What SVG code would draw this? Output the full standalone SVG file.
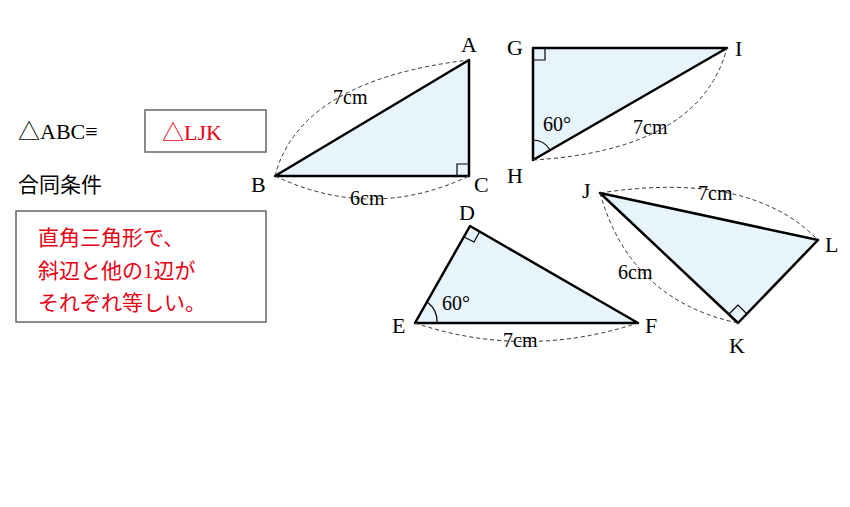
<svg xmlns="http://www.w3.org/2000/svg" width="850" height="507" viewBox="0 0 850 507">
<style>
.tri{fill:#e8f4fc;stroke:#000;stroke-width:2.5;stroke-linejoin:round}
.ra{fill:none;stroke:#000;stroke-width:1.2}
.dash{fill:none;stroke:#333;stroke-width:1;stroke-dasharray:4,3}
.t{font-family:"Liberation Serif","Noto Sans CJK JP",serif;font-size:22px;fill:#000}
.t.s{font-size:20px}
.t.j{font-size:21px}
.r{fill:#e60012}
.box{fill:#fff;stroke:#666;stroke-width:1.5}
</style>
<rect width="850" height="507" fill="#fff"/>
<g id="left">
<text class="t" x="18" y="139">△ABC≡</text>
<rect class="box" x="145" y="110" width="121" height="42"/>
<text class="t r" x="162" y="140">△LJK</text>
<text class="t j" x="18" y="192">合同条件</text>
<rect class="box" x="16" y="211" width="250" height="111"/>
<text class="t j r" x="38" y="245">直角三角形で、</text>
<text class="t j r" x="38" y="278">斜辺と他の1辺が</text>
<text class="t j r" x="38" y="310">それぞれ等しい。</text>
</g>
<g id="ABC">
<polygon class="tri" points="469,60 275,176 469,176"/>
<polyline class="ra" points="457,176 457,164 469,164"/>
<path class="dash" d="M275,176 Q300,80 469,60"/>
<path class="dash" d="M275,176 Q372,222 469,176"/>
<text class="t" x="461" y="52">A</text>
<text class="t" x="251" y="192">B</text>
<text class="t" x="474" y="192">C</text>
<text class="t s" x="333" y="104">7cm</text>
<text class="t s" x="350" y="205">6cm</text>
</g>
<g id="GHI">
<polygon class="tri" points="533,48 533,160 727,48"/>
<polyline class="ra" points="533,60 545,60 545,48"/>
<path class="ra" d="M533,140 A20,20 0 0 1 550,150"/>
<path class="dash" d="M533,160 Q700,150 727,48"/>
<text class="t" x="507" y="55">G</text>
<text class="t" x="507" y="183">H</text>
<text class="t" x="735" y="56">I</text>
<text class="t s" x="543" y="131">60°</text>
<text class="t s" x="633" y="134">7cm</text>
</g>
<g id="DEF">
<polygon class="tri" points="470,226 415,323 638,323"/>
<polyline class="ra" points="464,237 474,242 480,231"/>
<path class="ra" d="M427,302 A24,24 0 0 1 437,323"/>
<path class="dash" d="M415,323 Q525,360 638,323"/>
<text class="t" x="459" y="220">D</text>
<text class="t" x="392" y="333">E</text>
<text class="t" x="645" y="333">F</text>
<text class="t s" x="442" y="310">60°</text>
<text class="t s" x="503" y="347">7cm</text>
</g>
<g id="JKL">
<polygon class="tri" points="600,193 738,323 818,240"/>
<polyline class="ra" points="729,314 738,305 747,314"/>
<path class="dash" d="M600,193 Q750,170 818,240"/>
<path class="dash" d="M600,193 Q630,300 738,323"/>
<text class="t" x="582" y="198">J</text>
<text class="t" x="729" y="353">K</text>
<text class="t" x="825" y="252">L</text>
<text class="t s" x="698" y="200">7cm</text>
<text class="t s" x="618" y="279">6cm</text>
</g>
</svg>
